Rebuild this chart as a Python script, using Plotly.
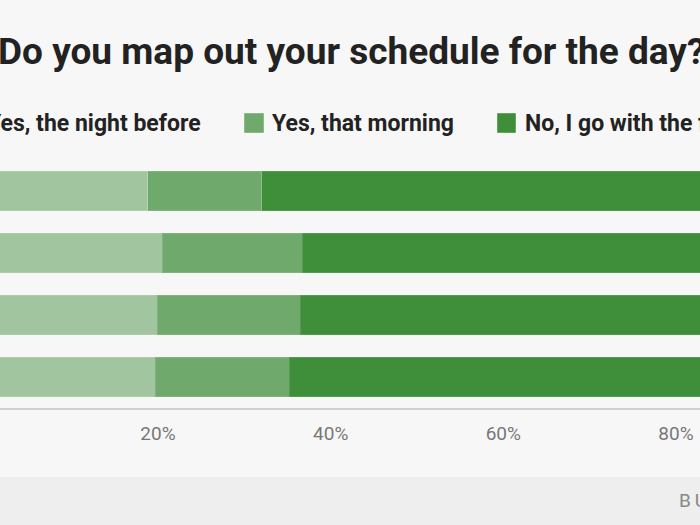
import plotly.graph_objects as go

categories = ["Group A", "Group B", "Group C", "Group D"]
night_before = [18.8, 20.5, 19.9, 19.7]
that_morning = [13.2, 16.2, 16.6, 15.5]
go_with_flow = [68.0, 63.3, 63.5, 64.8]
series_names = ["Yes, the night before", "Yes, that morning", "No, I go with the flow"]
tick_vals = [0, 20, 40, 60, 80, 100]
tick_text = ["0%", "20%", "40%", "60%", "80%", "100%"]

colors = ["#a1c69f", "#6fa96c", "#3e8e3a"]
W, H = 700, 525

fig = go.Figure()
for name, vals, col in zip(series_names, [night_before, that_morning, go_with_flow], colors):
    fig.add_trace(go.Bar(
        y=categories, x=vals, name=name, orientation="h",
        marker=dict(color=col, line=dict(color="rgba(255,255,255,0.12)", width=1)),
        showlegend=False,
    ))

def px(x):
    return x / W

def py(y):
    return 1 - y / H

fig.update_layout(
    width=W, height=H,
    margin=dict(l=0, r=0, t=0, b=0),
    barmode="stack", bargap=0.36,
    paper_bgcolor="#f7f7f7", plot_bgcolor="#f7f7f7",
    font=dict(family="Roboto", color="#222"),
    xaxis=dict(range=[1.7, 82.78], tickvals=tick_vals, ticktext=tick_text,
               showgrid=False, zeroline=False, showline=True, linecolor="#d0d0d0", linewidth=2,
               ticks="outside", ticklen=7, tickcolor="rgba(0,0,0,0)",
               tickfont=dict(family="Roboto", size=19, color="#777")),
    yaxis=dict(domain=[py(408), py(160)], autorange="reversed", showticklabels=False,
               showgrid=False, zeroline=False, showline=False),
)

# footer band
fig.add_shape(type="rect", xref="paper", yref="paper", x0=-0.1, x1=1.1, y0=-0.1, y1=py(477),
              fillcolor="#eeeeee", line=dict(width=0), layer="below")

# title
fig.add_annotation(text="Do you map out your schedule for the day?", xref="paper", yref="paper",
                   x=px(351), y=py(51), xanchor="center", yanchor="middle", showarrow=False,
                   font=dict(family="Roboto", size=37, color="#222", weight=700))

# legend (manual)
leg_y = 123
squares = [(-40, -20), (244, 264), (497, 516)]
text_x = [-15, 270, 523]
for (x0, x1), tx, name, col in zip(squares, text_x, series_names, colors):
    fig.add_shape(type="rect", xref="paper", yref="paper", x0=px(x0), x1=px(x1),
                  y0=py(leg_y + 10), y1=py(leg_y - 10), fillcolor=col,
                  line=dict(color="rgba(255,255,255,0.4)", width=1))
    fig.add_annotation(text=name, xref="paper", yref="paper", x=px(tx), y=py(leg_y),
                       xanchor="left", yanchor="middle", showarrow=False,
                       font=dict(family="Roboto", size=23, color="#222", weight=700))

fig.add_annotation(text="B\u2009U\u2009S\u2009I\u2009N\u2009E\u2009S\u2009S", xref="paper", yref="paper",
                   x=px(677), y=py(500), xanchor="left", yanchor="middle", showarrow=False,
                   font=dict(family="Roboto", size=19, color="#888"))

fig.write_html("out.html")
